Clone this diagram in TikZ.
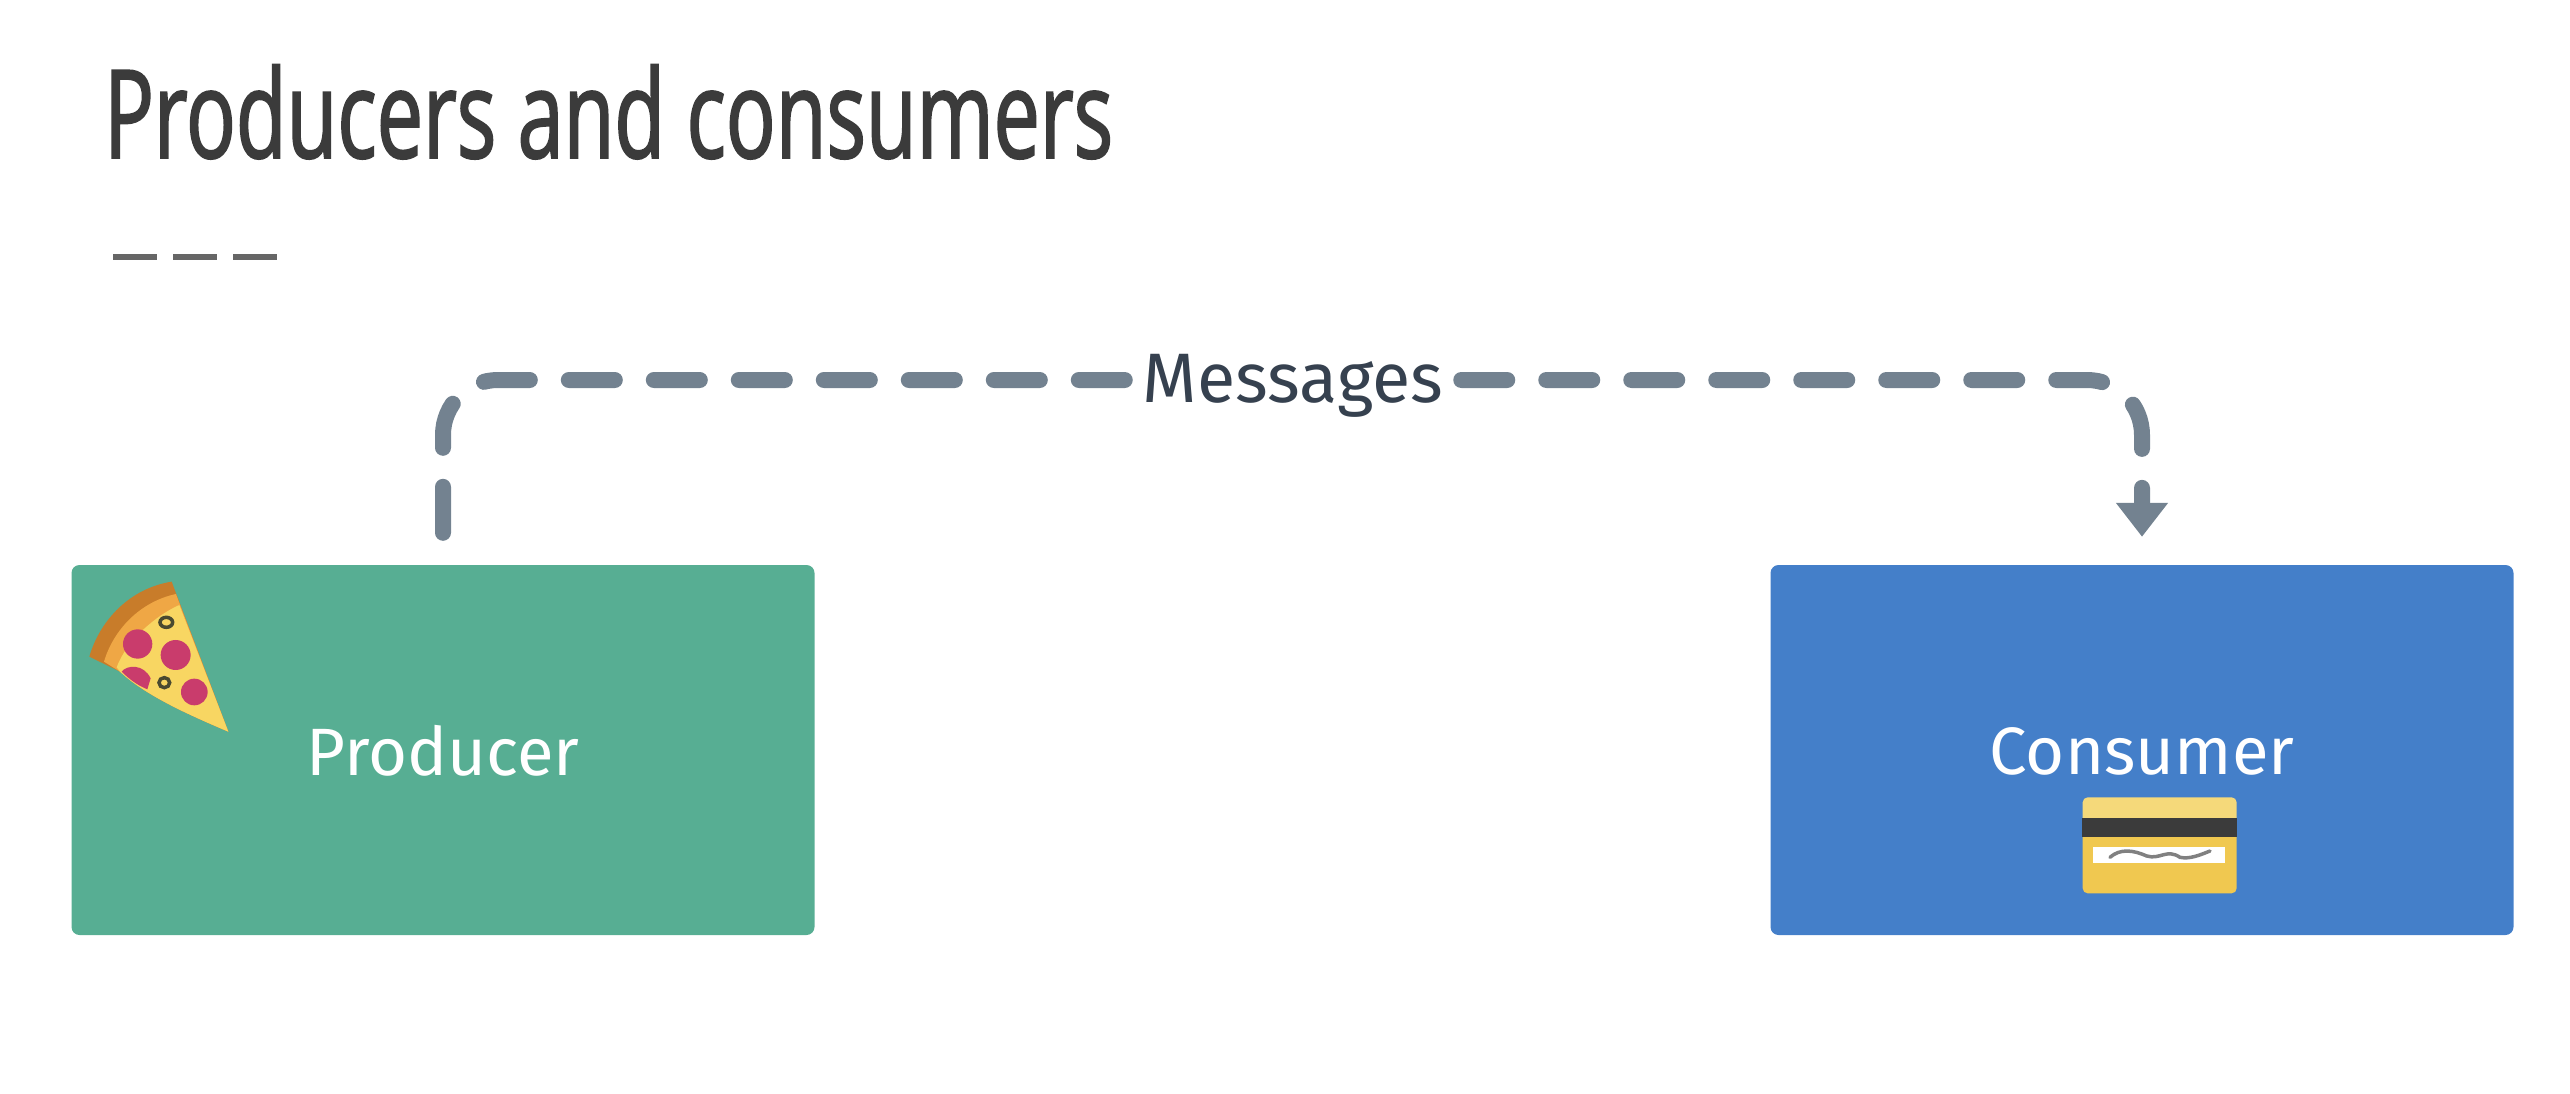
\documentclass[tikz,border=0pt]{standalone}
\usetikzlibrary{arrows.meta}
\usepackage{fontspec}
\setmainfont{Fira Sans}
\newfontfamily\titlefont[FakeStretch=0.672,FakeBold=1.4]{Open Sans}
\definecolor{flowgrey}{HTML}{738290}
\definecolor{inkgrey}{HTML}{36414F}
\definecolor{titlegrey}{HTML}{3B3B3B}
\definecolor{rulegrey}{HTML}{666666}
\definecolor{producergreen}{HTML}{57AE93}
\definecolor{consumerblue}{HTML}{447FC9}
\definecolor{crustdark}{HTML}{C87C2A}
\definecolor{crustlight}{HTML}{EFA745}
\definecolor{cheese}{HTML}{F8D662}
\definecolor{salami}{HTML}{C93C6C}
\definecolor{olive}{HTML}{4A4A30}
\definecolor{cardtop}{HTML}{F5D97A}
\definecolor{cardgold}{HTML}{F0C850}
\begin{document}
\begin{tikzpicture}[x=1pt, y=-1pt, node distance=1699pt,
	box/.style = {rounded corners=8pt, minimum width=743pt, minimum height=370pt, inner sep=0pt},
	boxlabel/.style = {text=white, font=\fontsize{67}{70}\selectfont},
	flow/.style = {draw=flowgrey, line width=16pt, line cap=round, dash pattern=on 46pt off 39pt, rounded corners=55pt}]
	\useasboundingbox (0,0) rectangle (2570,1094);
	%Title and its rule
	\node[anchor=base west, inner sep=0pt, text=titlegrey, font=\titlefont\fontsize{123}{130}\selectfont] (title) at (104,158) {Producers and consumers};
	\coordinate (ruleA) at (113,257);
	\coordinate (ruleB) at (157,257);
	\coordinate (ruleC) at (173,257);
	\coordinate (ruleD) at (217,257);
	\coordinate (ruleE) at (233,257);
	\coordinate (ruleF) at (277,257);
	\draw[line width=6pt, draw=rulegrey] (ruleA) -- (ruleB) (ruleC) -- (ruleD) (ruleE) -- (ruleF);
	%Boxes
	\node[box, fill=producergreen] (producer) at (443,750) {};
	\node[box, fill=consumerblue] (consumer) [right of=producer] {};
	\node[boxlabel] (producerlabel) at (443,751) {Producer};
	\node[boxlabel] (consumerlabel) at (2142,751) {Consumer};
	%Connector, in two parts either side of its label
	\node[inner xsep=18pt, inner ysep=0pt, text height=48pt, text depth=4pt, text=inkgrey, font=\fontsize{70}{70}\selectfont] (messages) at (1293,380) {Messages};
	\coordinate (flowstart) at ([yshift=32pt]producer.north);
	\coordinate (flowend) at ([yshift=28pt]consumer.north);
	\draw[flow] (flowstart) -- (flowstart |- messages.west) -- (messages.west);
	\draw[flow, -{Triangle[width=50pt,length=34pt]}] (messages.east) -- (flowend |- messages.east) -- (flowend);
	%Pizza slice
	\begin{scope}[shift={(60,560)}, x=0.3333pt, y=-0.3333pt]
		\fill[crustdark] (88,290) .. controls (120,180) and (210,85) .. (335,65) -- (505,515) .. controls (400,470) and (260,410) .. (180,335) -- cycle;
		\fill[crustlight] (132,305) .. controls (160,210) and (240,125) .. (348,102) -- (505,515) .. controls (400,470) and (260,410) .. (180,335) -- cycle;
		\fill[cheese] (170,322) .. controls (200,240) and (290,165) .. (358,135) -- (505,515) .. controls (400,470) and (260,410) .. (180,335) -- cycle;
		\fill[salami] (233,252) circle (44);
		\fill[salami] (347,285) circle (45);
		\fill[salami] (403,396) circle (40);
		\fill[salami] (185,335) .. controls (200,315) and (250,310) .. (272,355) -- (262,388) .. controls (230,375) and (205,355) .. (185,335) -- cycle;
		\draw[olive, line width=3.5pt] (319,187) ellipse (19 and 15);
		\draw[olive, line width=3.5pt] (313,368) ellipse (16 and 15);
	\end{scope}
	%Credit card
	\begin{scope}[shift={(2040,770)}, x=0.3333pt, y=-0.3333pt]
		\fill[cardgold, rounded corners=5pt] (128,180) rectangle (590,370);
		\fill[cardtop, rounded corners=5pt] (128,82) rectangle (590,170);
		\fill[titlegrey] (126,145) rectangle (592,200);
		\fill[white] (160,232) rectangle (555,280);
		\draw[gray, line width=3.5pt, line cap=round] (210,262) .. controls (240,235) and (280,240) .. (320,258) .. controls (360,270) and (380,235) .. (420,262) .. controls (450,268) and (480,255) .. (510,243);
	\end{scope}
\end{tikzpicture}
\end{document}
